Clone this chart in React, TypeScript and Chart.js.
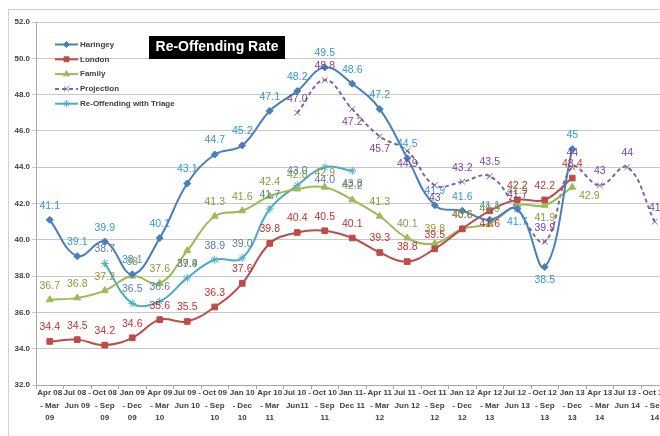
import React, { useEffect, useRef } from 'react';
import { Chart, registerables } from 'chart.js';
import { drawPoint } from 'chart.js/helpers';

Chart.register(...registerables);

const categories: string[][] = [
  ['Apr 08', '- Mar', '09'],
  ['Jul 08 -', 'Jun 09'],
  ['Oct 08', '- Sep', '09'],
  ['Jan 09', '- Dec', '09'],
  ['Apr 09', '- Mar', '10'],
  ['Jul 09 -', 'Jun 10'],
  ['Oct 09', '- Sep', '10'],
  ['Jan 10', '- Dec', '10'],
  ['Apr 10', '- Mar', '11'],
  ['Jul 10 -', 'Jun11'],
  ['Oct 10', '- Sep', '11'],
  ['Jan 11-', 'Dec 11'],
  ['Apr 11', '- Mar', '12'],
  ['Jul 11 -', 'Jun 12'],
  ['Oct 11', '- Sep', '12'],
  ['Jan 12', '- Dec', '12'],
  ['Apr 12', '- Mar', '13'],
  ['Jul 12 -', 'Jun 13'],
  ['Oct 12', '- Sep', '13'],
  ['Jan 13', '- Dec', '13'],
  ['Apr 13', '- Mar', '14'],
  ['Jul 13 -', 'Jun 14'],
  ['Oct 13', '- Sep', '14'],
];

const haringey = [41.1, 39.1, 39.9, 38.1, 40.1, 43.1, 44.7, 45.2, 47.1, 48.2, 49.5, 48.6, 47.2, 44.5, 41.9, 41.6, 41.1, 41.7, 38.5, 45.0, null, null, null];
const london = [34.4, 34.5, 34.2, 34.6, 35.6, 35.5, 36.3, 37.6, 39.8, 40.4, 40.5, 40.1, 39.3, 38.8, 39.5, 40.6, 41.6, 42.2, 42.2, 43.4, null, null, null];
const family = [36.7, 36.8, 37.2, 38.0, 37.6, 39.4, 41.3, 41.6, 42.4, 42.8, 42.9, 42.2, 41.3, 40.1, 39.8, 40.6, 40.9, 41.9, 41.9, 42.9, null, null, null];
const projection = [null, null, null, null, null, null, null, null, null, 47.0, 48.8, 47.2, 45.7, 44.9, 43.0, 43.2, 43.5, 41.7, 39.9, 44.0, 43.0, 44.0, 41.0];
const triage = [null, null, 38.7, 36.5, 36.6, 37.9, 38.9, 39.0, 41.7, 43.0, 44.0, 43.8, null, null, null, null, null, null, null, null, null, null, null];

const yTicks = [32, 34, 36, 38, 40, 42, 44, 46, 48, 50, 52];

const seriesNames = ['Haringey', 'London', 'Family', 'Projection', 'Re-Offending with Triage'];

// indices whose data label is shown without a decimal
const intLabels: Record<string, number[]> = {
  Haringey: [19],
  Family: [3],
  Projection: [14, 19, 20, 21, 22],
};

// label placement overrides: b = below, r = right
const placement: Record<string, string> = {
  'Haringey:17': 'b',
  'Haringey:18': 'b',
  'London:16': 'b',
  'Family:5': 'b',
  'Family:18': 'b',
  'Family:19': 'r',
  'Re-Offending with Triage:10': 'b',
  'Re-Offending with Triage:11': 'b',
  'Projection:11': 'b',
  'Projection:12': 'b',
  'Projection:13': 'b',
  'Projection:14': 'b',
};

const lineColors = ['#4A7EBB', '#BE4B48', '#9BBB59', '#8064A2', '#4BACC6'];
const labelColors = ['#3597D3', '#C0312E', '#8C9A3C', '#7B3FA0', '#5A7EA0'];
const pointStyles = ['rectRot', 'rect', 'triangle', 'crossRot', 'star'];
const pointRadii = [3.5, 4, 4, 4, 4];

const FONT = '"Liberation Sans", Arial, sans-serif';

const bgPlugin = {
  id: 'bgFrame',
  beforeDraw(chart: any) {
    const ctx = chart.ctx;
    ctx.save();
    ctx.fillStyle = '#ffffff';
    ctx.fillRect(0, 0, chart.width, chart.height);
    ctx.strokeStyle = '#D0D0D0';
    ctx.lineWidth = 1;
    ctx.strokeRect(8.5, 9.5, chart.width + 20, chart.height + 20);
    ctx.restore();
  },
};

const labelPlugin = {
  id: 'valueLabels',
  afterDatasetsDraw(chart: any) {
    const ctx = chart.ctx;
    ctx.save();
    ctx.font = `10.5px ${FONT}`;
    ctx.textAlign = 'center';
    ctx.textBaseline = 'middle';
    chart.data.datasets.forEach((ds: any, di: number) => {
      const meta = chart.getDatasetMeta(di);
      const name = ds.label as string;
      const ints = intLabels[name] || [];
      meta.data.forEach((pt: any, i: number) => {
        const v = ds.data[i];
        if (v == null) return;
        const text = ints.includes(i) ? String(Math.round(v)) : Number(v).toFixed(1);
        const pos = placement[`${name}:${i}`] || 'a';
        let x = pt.x;
        let y = pt.y - 14;
        if (pos === 'b') y = pt.y + 13;
        if (pos === 'r') {
          x = pt.x + 17;
          y = pt.y + 9;
        }
        ctx.fillStyle = labelColors[di];
        ctx.fillText(text, x, y);
      });
    });
    ctx.restore();
  },
};

const legendPlugin = {
  id: 'innerLegend',
  afterDraw(chart: any) {
    const ctx = chart.ctx;
    ctx.save();
    chart.data.datasets.forEach((ds: any, di: number) => {
      const y = 44.5 + di * 14.8;
      ctx.strokeStyle = lineColors[di];
      ctx.lineWidth = 2;
      ctx.setLineDash(di === 3 ? [4, 3] : []);
      ctx.beginPath();
      ctx.moveTo(55, y);
      ctx.lineTo(78, y);
      ctx.stroke();
      ctx.setLineDash([]);
      ctx.fillStyle = lineColors[di];
      ctx.strokeStyle = lineColors[di];
      ctx.lineWidth = 1;
      drawPoint(ctx, { pointStyle: pointStyles[di] as any, radius: pointRadii[di] - 0.5, borderWidth: 1, rotation: 0 }, 66.5, y);
      ctx.fillStyle = '#404040';
      ctx.font = `bold 8px ${FONT}`;
      ctx.textAlign = 'left';
      ctx.textBaseline = 'middle';
      ctx.fillText(ds.label, 80, y);
    });
    // title
    ctx.fillStyle = '#000000';
    ctx.fillRect(149, 36, 136, 23);
    ctx.fillStyle = '#ffffff';
    ctx.font = `bold 14px ${FONT}`;
    ctx.textAlign = 'center';
    ctx.textBaseline = 'middle';
    ctx.fillText('Re-Offending Rate', 217, 47.5);
    ctx.restore();
  },
};

const seriesData = [haringey, london, family, projection, triage];

export default function App() {
  const ref = useRef<HTMLCanvasElement>(null);
  useEffect(() => {
    const canvas = ref.current!;
    const chart = new Chart(canvas, {
      type: 'line',
      data: {
        labels: categories,
        datasets: seriesData.map((d, i) => ({
          label: seriesNames[i],
          data: d,
          borderColor: lineColors[i],
          backgroundColor: lineColors[i],
          borderWidth: 2,
          borderDash: i === 3 ? [4, 3] : [],
          tension: 0.4,
          pointStyle: pointStyles[i] as any,
          pointRadius: pointRadii[i],
          pointBorderWidth: 1,
          pointBorderColor: lineColors[i],
          pointBackgroundColor: lineColors[i],
          fill: false,
          spanGaps: false,
        })),
      },
      options: {
        responsive: false,
        animation: false,
        devicePixelRatio: 1,
        layout: { padding: { top: 22, right: 21.5, left: 0, bottom: 0 } },
        plugins: {
          legend: { display: false },
          tooltip: { enabled: false },
          title: { display: false },
        },
        scales: {
          x: {
            type: 'category',
            offset: true,
            grid: {
              display: true,
              drawOnChartArea: false,
              drawTicks: true,
              tickLength: 4,
              offset: true,
              color: '#A6A6A6',
            },
            border: { color: '#A6A6A6' },
            ticks: {
              autoSkip: false,
              maxRotation: 0,
              minRotation: 0,
              padding: -2,
              color: '#404040',
              font: { family: FONT, size: 8, weight: 'bold', lineHeight: 1.55 },
            },
            afterFit(scale: any) {
              scale.height = 51;
            },
          },
          y: {
            min: yTicks[0],
            max: yTicks[yTicks.length - 1],
            afterBuildTicks(scale: any) {
              scale.ticks = yTicks.map((v) => ({ value: v }));
            },
            grid: {
              color: '#C8C8C8',
              tickLength: 4,
              drawTicks: true,
            },
            border: { color: '#A6A6A6' },
            ticks: {
              padding: 2,
              color: '#404040',
              font: { family: FONT, size: 8, weight: 'bold' },
              callback: (v: any) => Number(v).toFixed(1),
            },
            afterFit(scale: any) {
              scale.width = 36;
            },
          },
        },
      },
      plugins: [bgPlugin, labelPlugin, legendPlugin],
    } as any);
    return () => chart.destroy();
  }, []);
  return (
    <div
      style={{
        position: 'fixed',
        left: 0,
        top: 0,
        width: 660,
        height: 436,
        overflow: 'hidden',
        background: '#ffffff',
      }}
    >
      <canvas ref={ref} width={690} height={436} style={{ display: 'block', width: 690, height: 436 }} />
    </div>
  );
}
